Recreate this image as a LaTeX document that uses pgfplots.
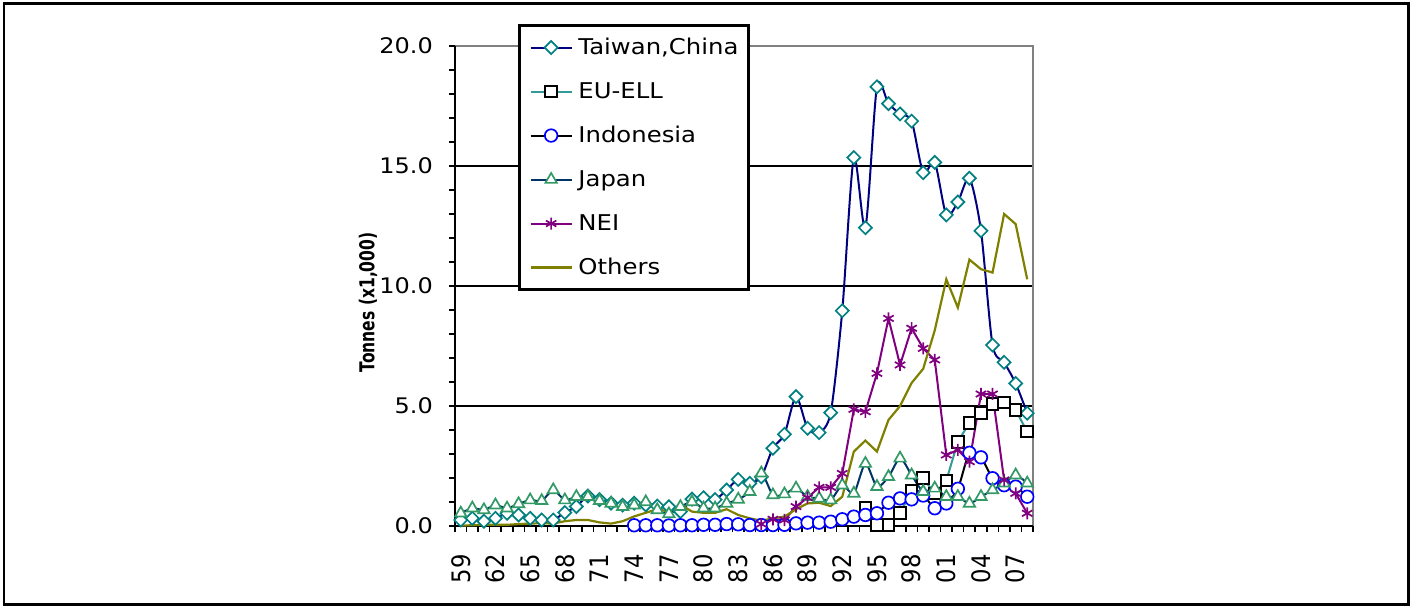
\documentclass[border=0pt]{standalone}
\usepackage{fontspec}
\setmainfont{DejaVu Sans}
\newfontfamily\wide[FakeStretch=1.12]{DejaVu Sans}
\usepackage{graphicx}
\usepackage{pgfplots}
\pgfplotsset{compat=1.18}
\newcommand\vs[1]{\scalebox{1}[1.12]{#1}}
\definecolor{navyc}{HTML}{000080}
\definecolor{tealc}{HTML}{008080}
\definecolor{euline}{HTML}{339999}
\definecolor{bluec}{HTML}{0000FF}
\definecolor{japline}{HTML}{003366}
\definecolor{japmark}{HTML}{339966}
\definecolor{purplec}{HTML}{800080}
\definecolor{olivec}{HTML}{808000}
\begin{document}
\begin{tikzpicture}
\useasboundingbox (0,0) rectangle (1413bp,608bp);
\draw[line width=2.5bp] (4bp,3.5bp) rectangle (1408.5bp,604.5bp);
\begin{axis}[
  at={(455bp,82bp)}, anchor=south west, scale only axis,
  width=578bp, height=480bp,
  xmin=58.5, xmax=108.5, ymin=0, ymax=20,
  axis line style={draw=none},
  clip=false,
  tick pos=left,
  tick align=outside,
  major tick length=6bp, minor tick length=6bp,
  tick style={black, line width=1.5bp},
  xtick={58.5,59.5,...,108.5}, xticklabels={},
  extra x ticks={59,62,...,107},
  extra x tick labels={\vs{59},\vs{62},\vs{65},\vs{68},\vs{71},\vs{74},\vs{77},\vs{80},\vs{83},\vs{86},\vs{89},\vs{92},\vs{95},\vs{98},\vs{01},\vs{04},\vs{07}},
  extra x tick style={major tick length=0pt},
  xticklabel style={rotate=90, anchor=east, inner sep=0pt, font=\fontsize{22.8}{26}\selectfont},
  xticklabel shift=28bp,
  ytick={0,5,...,20},
  yticklabels={0.0,5.0,10.0,15.0,20.0},
  minor ytick={1,2,3,4,6,7,8,9,11,12,13,14,16,17,18,19},
  extra y ticks={5,10,15},
  extra y tick labels={},
  extra y tick style={grid=major, major tick length=0pt, major grid style={black, line width=1.6bp}},
  yticklabel style={anchor=east, inner sep=0pt, font=\wide\fontsize{21.5}{25}\selectfont},
  yticklabel shift=16bp,
  ylabel={\scalebox{1}[1.32]{Tonnes (x1,000)}},
  ylabel style={at={(axis description cs:-0.1505,0.4656)}, anchor=center, font=\bfseries\fontsize{15.6}{18}\selectfont},
  legend cell align=left,
  legend image code/.code={\draw[mark repeat=2,mark phase=2] plot coordinates {(0bp,0bp) (20.5bp,0bp) (41bp,0bp)};},
  legend style={at={(0.1095,1.0452)}, anchor=north west, draw=black, line width=2.5bp, fill=white,
    inner xsep=10bp, inner ysep=10bp, row sep=20bp, column sep=5.7bp,
    nodes={inner sep=0pt, text height=19bp, text depth=5bp},
    font=\wide\fontsize{21.8}{25}\selectfont},
]
\draw[gray, line width=1.5bp] (rel axis cs:0,1) -- (rel axis cs:1,1) -- (rel axis cs:1,0);
\draw[black, line width=2bp] (rel axis cs:0,1) -- (rel axis cs:0,0) -- (rel axis cs:1,0);

\addplot[color=navyc, line width=2bp, smooth, tension=0.45, mark=square*, mark size=4.6bp,
  mark options={rotate=45, draw=tealc, fill=white, line width=1.7bp, solid}]
coordinates {(59,0.25)(60,0.32)(61,0.2)(62,0.32)(63,0.53)(64,0.46)(65,0.32)(66,0.25)(67,0.25)(68,0.56)(69,0.81)(70,1.25)(71,1.1)(72,0.95)(73,0.87)(74,0.95)(75,0.88)(76,0.83)(77,0.8)(78,0.6)(79,1.12)(80,1.18)(81,1.1)(82,1.5)(83,1.94)(84,1.78)(85,2.05)(86,3.24)(87,3.82)(88,5.39)(89,4.07)(90,3.89)(91,4.72)(92,8.97)(93,15.35)(94,12.43)(95,18.3)(96,17.6)(97,17.17)(98,16.87)(99,14.72)(100,15.15)(101,12.96)(102,13.5)(103,14.49)(104,12.3)(105,7.54)(106,6.82)(107,5.94)(108,4.7)};
\addlegendentry{Taiwan,China}

\addplot[color=euline, line width=2bp, mark=square*, mark size=5.8bp,
  mark options={draw=black, fill=white, line width=2bp, solid}]
coordinates {(94,0.74)(95,0.04)(96,0.04)(97,0.53)(98,1.47)(99,1.99)(100,1.35)(101,1.89)(102,3.51)(103,4.3)(104,4.72)(105,5.08)(106,5.14)(107,4.83)(108,3.93)};
\addlegendentry{EU-ELL}

\addplot[color=black, line width=2bp, smooth, tension=0.45, mark=*, mark size=6.3bp,
  mark options={draw=bluec, fill=white, line width=1.7bp, solid}]
coordinates {(74,0.03)(75,0.03)(76,0.03)(77,0.02)(78,0.03)(79,0.03)(80,0.05)(81,0.05)(82,0.08)(83,0.07)(84,0.04)(85,0.04)(86,0.04)(87,0.05)(88,0.11)(89,0.14)(90,0.14)(91,0.18)(92,0.28)(93,0.39)(94,0.46)(95,0.53)(96,0.97)(97,1.15)(98,1.11)(99,1.27)(100,0.74)(101,0.94)(102,1.55)(103,3.05)(104,2.86)(105,1.99)(106,1.7)(107,1.64)(108,1.22)};
\addlegendentry{Indonesia}

\addplot[color=japline, line width=2bp, smooth, tension=0.45, mark=triangle*, mark size=6.6bp,
  mark options={draw=japmark, fill=white, line width=1.7bp, solid}]
coordinates {(59,0.53)(60,0.74)(61,0.67)(62,0.87)(63,0.74)(64,0.92)(65,1.08)(66,1.05)(67,1.5)(68,1.08)(69,1.22)(70,1.22)(71,1.05)(72,0.94)(73,0.8)(74,0.87)(75,1.0)(76,0.67)(77,0.5)(78,0.8)(79,1.0)(80,0.74)(81,0.74)(82,0.94)(83,1.11)(84,1.43)(85,2.2)(86,1.29)(87,1.33)(88,1.57)(89,1.22)(90,1.15)(91,1.08)(92,1.7)(93,1.36)(94,2.6)(95,1.64)(96,2.05)(97,2.82)(98,2.12)(99,1.43)(100,1.57)(101,1.22)(102,1.22)(103,0.94)(104,1.22)(105,1.5)(106,1.78)(107,2.12)(108,1.78)};
\addlegendentry{Japan}

\addplot[color=purplec, line width=2bp, mark=asterisk, mark size=6bp,
  mark options={draw=purplec, line width=1.7bp, solid}]
coordinates {(85,0.08)(86,0.28)(87,0.25)(88,0.81)(89,1.18)(90,1.61)(91,1.61)(92,2.19)(93,4.86)(94,4.76)(95,6.36)(96,8.65)(97,6.71)(98,8.24)(99,7.4)(100,6.92)(101,2.96)(102,3.17)(103,2.68)(104,5.5)(105,5.5)(106,1.92)(107,1.36)(108,0.53)};
\addlegendentry{NEI}

\addplot[color=olivec, line width=2.2bp, mark=none]
coordinates {(59,0.02)(60,0.03)(61,0.05)(62,0.05)(63,0.05)(64,0.08)(65,0.1)(66,0.12)(67,0.1)(68,0.2)(69,0.25)(70,0.25)(71,0.15)(72,0.1)(73,0.2)(74,0.4)(75,0.55)(76,0.7)(77,0.6)(78,0.9)(79,0.6)(80,0.55)(81,0.55)(82,0.7)(83,0.46)(84,0.32)(85,0.22)(86,0.32)(87,0.39)(88,0.7)(89,0.94)(90,0.97)(91,0.83)(92,1.22)(93,3.1)(94,3.56)(95,3.1)(96,4.42)(97,5.0)(98,5.96)(99,6.55)(100,8.15)(101,10.28)(102,9.1)(103,11.1)(104,10.7)(105,10.56)(106,13.0)(107,12.58)(108,10.28)};
\addlegendentry{Others}
\end{axis}
\end{tikzpicture}
\end{document}
